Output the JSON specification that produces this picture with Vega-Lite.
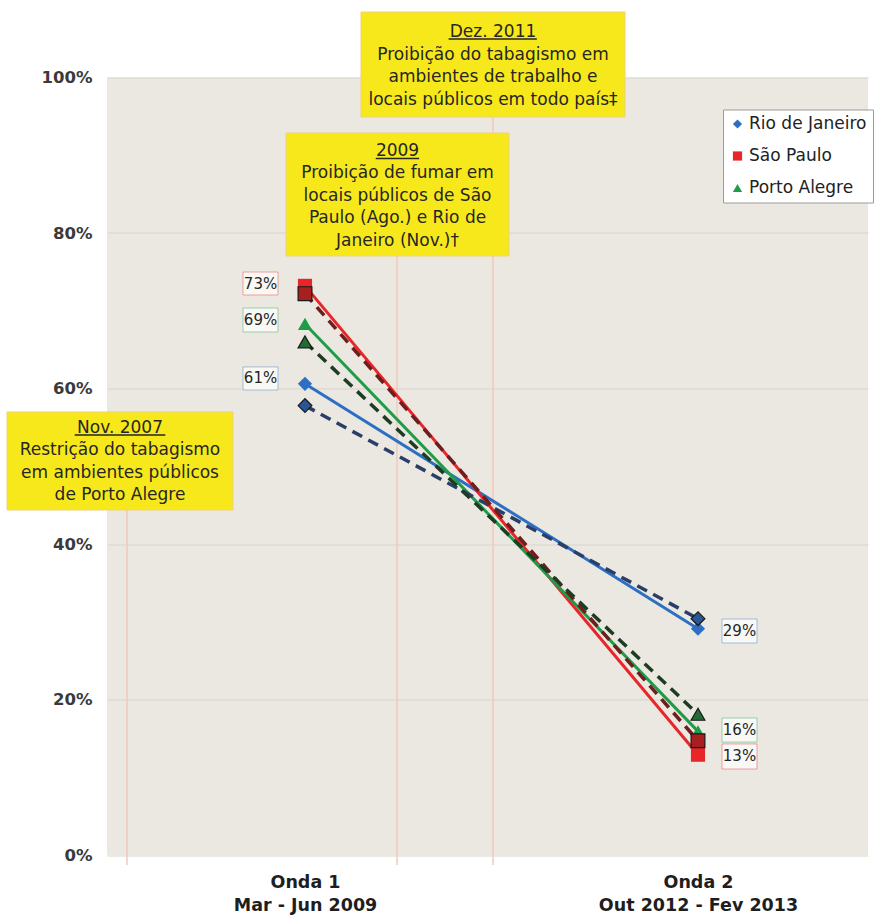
{
  "$schema": "https://vega.github.io/schema/vega-lite/v6.json",
  "width": 761,
  "height": 777.5,
  "autosize": {"type": "none"},
  "padding": {"left": 107, "top": 77.5, "right": 14, "bottom": 60},
  "background": "#ffffff",
  "view": {"fill": "#ebe8e1", "stroke": null},
  "config": {
    "font": "DejaVu Sans",
    "axisX": {"title": null, "grid": false, "domain": false, "ticks": false,
              "labelFont": "DejaVu Sans", "labelFontWeight": "bold", "labelFontSize": 17.5,
              "labelColor": "#1e1e1e", "labelLineHeight": 23, "labelPadding": 18, "labelFlush": false,
              "labelOverlap": false, "labelLimit": 400},
    "axisY": {"title": null, "grid": true, "gridColor": "#d8d4cc", "domain": false, "ticks": false,
              "labelFont": "DejaVu Sans", "labelFontWeight": "bold", "labelFontSize": 16.5,
              "labelColor": "#3a3a3a", "labelPadding": 15}
  },
  "datasets": {
    "serie": [
      {"serie": "Rio de Janeiro", "onda": 1, "valor": 60.6, "tipo": "cheia"},
      {"serie": "Rio de Janeiro", "onda": 2, "valor": 29.1, "tipo": "cheia"},
      {"serie": "São Paulo", "onda": 1, "valor": 73.2, "tipo": "cheia"},
      {"serie": "São Paulo", "onda": 2, "valor": 12.9, "tipo": "cheia"},
      {"serie": "Porto Alegre", "onda": 1, "valor": 68.3, "tipo": "cheia"},
      {"serie": "Porto Alegre", "onda": 2, "valor": 15.9, "tipo": "cheia"},
      {"serie": "Rio de Janeiro (tracejada)", "onda": 1, "valor": 57.8, "tipo": "tracejada"},
      {"serie": "Rio de Janeiro (tracejada)", "onda": 2, "valor": 30.4, "tipo": "tracejada"},
      {"serie": "São Paulo (tracejada)", "onda": 1, "valor": 72.2, "tipo": "tracejada"},
      {"serie": "São Paulo (tracejada)", "onda": 2, "valor": 14.7, "tipo": "tracejada"},
      {"serie": "Porto Alegre (tracejada)", "onda": 1, "valor": 66.0, "tipo": "tracejada"},
      {"serie": "Porto Alegre (tracejada)", "onda": 2, "valor": 18.1, "tipo": "tracejada"}
    ],
    "notas": [
      {"texto": "Dez. 2011\nProibição do tabagismo em\nambientes de trabalho e\nlocais públicos em todo país‡",
       "x1": 1.1425, "x2": 1.8143, "y1": 108.42, "y2": 94.92, "xc": 1.4784, "yt": 106.88,
       "lx": 1.4784, "ly1": 94.92, "ly2": -1.3, "ux1": 1.3655, "ux2": 1.5900, "uy": 104.95},
      {"texto": "2009\nProibição de fumar em\nlocais públicos de São\nPaulo (Ago.) e Rio de\nJaneiro (Nov.)†",
       "x1": 0.9517, "x2": 1.5191, "y1": 92.86, "y2": 77.04, "xc": 1.2354, "yt": 91.58,
       "lx": 1.2341, "ly1": 77.04, "ly2": -1.3, "ux1": 1.1800, "ux2": 1.2905, "uy": 89.58},
      {"texto": "Nov. 2007\nRestrição do tabagismo\nem ambientes públicos\nde Porto Alegre",
       "x1": 0.2418, "x2": 0.8168, "y1": 56.98, "y2": 44.37, "xc": 0.5293, "yt": 55.95,
       "lx": 0.5471, "ly1": 44.37, "ly2": -1.3, "ux1": 0.4140, "ux2": 0.6445, "uy": 54.02}
    ],
    "rotulos": [
      {"serie": "São Paulo", "texto": "73%", "x1": 0.8423, "x2": 0.9313, "y1": 74.98, "y2": 72.03, "xc": 0.8868, "yc": 73.5},
      {"serie": "Porto Alegre", "texto": "69%", "x1": 0.8423, "x2": 0.9313, "y1": 70.35, "y2": 67.27, "xc": 0.8868, "yc": 68.8},
      {"serie": "Rio de Janeiro", "texto": "61%", "x1": 0.8423, "x2": 0.9313, "y1": 62.77, "y2": 59.81, "xc": 0.8868, "yc": 61.29},
      {"serie": "Rio de Janeiro", "texto": "29%", "x1": 2.0611, "x2": 2.1501, "y1": 30.35, "y2": 27.27, "xc": 2.1056, "yc": 28.81},
      {"serie": "Porto Alegre", "texto": "16%", "x1": 2.0611, "x2": 2.1501, "y1": 17.62, "y2": 14.53, "xc": 2.1056, "yc": 16.08},
      {"serie": "São Paulo", "texto": "13%", "x1": 2.0611, "x2": 2.1501, "y1": 14.28, "y2": 11.06, "xc": 2.1056, "yc": 12.67}
    ]
  },
  "layer": [
    {
      "data": {"name": "notas"},
      "mark": {"type": "rule", "color": "#f2c9b8", "strokeWidth": 1.5},
      "encoding": {
        "x": {"field": "lx", "type": "quantitative", "scale": {"domain": [0.4962, 2.4326], "nice": false, "zero": false},
              "axis": {"values": [1, 2], "labelExpr": "datum.value == 1 ? ['Onda 1', 'Mar - Jun 2009'] : ['Onda 2', 'Out 2012 - Fev 2013']"}},
        "y": {"field": "ly1", "type": "quantitative", "scale": {"domain": [0, 100], "nice": false, "zero": false},
              "axis": {"values": [0, 20, 40, 60, 80, 100], "labelExpr": "datum.value + '%'"}},
        "y2": {"field": "ly2"}
      }
    },
    {
      "data": {"name": "notas"},
      "mark": {"type": "rect", "fill": "#f7e81c", "stroke": "#eed27a", "strokeWidth": 1},
      "encoding": {
        "x": {"field": "x1", "type": "quantitative", "scale": {"domain": [0.4962, 2.4326], "nice": false, "zero": false},
              "axis": {"values": [1, 2], "labelExpr": "datum.value == 1 ? ['Onda 1', 'Mar - Jun 2009'] : ['Onda 2', 'Out 2012 - Fev 2013']"}},
        "x2": {"field": "x2"},
        "y": {"field": "y1", "type": "quantitative", "scale": {"domain": [0, 100], "nice": false, "zero": false},
              "axis": {"values": [0, 20, 40, 60, 80, 100], "labelExpr": "datum.value + '%'"}},
        "y2": {"field": "y2"}
      }
    },
    {
      "data": {"name": "notas"},
      "mark": {"type": "text", "font": "DejaVu Sans", "fontSize": 17, "color": "#262626",
               "baseline": "top", "align": "center", "lineBreak": "\n", "lineHeight": 22.5},
      "encoding": {
        "x": {"field": "xc", "type": "quantitative", "scale": {"domain": [0.4962, 2.4326], "nice": false, "zero": false},
              "axis": {"values": [1, 2], "labelExpr": "datum.value == 1 ? ['Onda 1', 'Mar - Jun 2009'] : ['Onda 2', 'Out 2012 - Fev 2013']"}},
        "y": {"field": "yt", "type": "quantitative", "scale": {"domain": [0, 100], "nice": false, "zero": false},
              "axis": {"values": [0, 20, 40, 60, 80, 100], "labelExpr": "datum.value + '%'"}},
        "text": {"field": "texto"}
      }
    },
    {
      "data": {"name": "notas"},
      "mark": {"type": "rule", "color": "#262626", "strokeWidth": 1.3},
      "encoding": {
        "x": {"field": "ux1", "type": "quantitative", "scale": {"domain": [0.4962, 2.4326], "nice": false, "zero": false},
              "axis": {"values": [1, 2], "labelExpr": "datum.value == 1 ? ['Onda 1', 'Mar - Jun 2009'] : ['Onda 2', 'Out 2012 - Fev 2013']"}},
        "x2": {"field": "ux2"},
        "y": {"field": "uy", "type": "quantitative", "scale": {"domain": [0, 100], "nice": false, "zero": false},
              "axis": {"values": [0, 20, 40, 60, 80, 100], "labelExpr": "datum.value + '%'"}}
      }
    },
    {
      "data": {"name": "serie"},
      "transform": [{"filter": "datum.tipo == 'cheia'"}],
      "mark": {"type": "line", "strokeWidth": 3},
      "encoding": {
        "x": {"field": "onda", "type": "quantitative", "scale": {"domain": [0.4962, 2.4326], "nice": false, "zero": false},
              "axis": {"values": [1, 2], "labelExpr": "datum.value == 1 ? ['Onda 1', 'Mar - Jun 2009'] : ['Onda 2', 'Out 2012 - Fev 2013']"}},
        "y": {"field": "valor", "type": "quantitative", "scale": {"domain": [0, 100], "nice": false, "zero": false},
              "axis": {"values": [0, 20, 40, 60, 80, 100], "labelExpr": "datum.value + '%'"}},
        "stroke": {"field": "serie", "type": "nominal", "legend": null,
                   "scale": {"domain": ["Rio de Janeiro (tracejada)", "São Paulo (tracejada)", "Porto Alegre (tracejada)", "Rio de Janeiro", "São Paulo", "Porto Alegre"],
                             "range": ["#2a3f68", "#6e1e1e", "#1e3b24", "#2d6fc3", "#e8262a", "#1f9c48"]}}
      }
    },
    {
      "data": {"name": "serie"},
      "transform": [{"filter": "datum.tipo == 'tracejada'"}],
      "mark": {"type": "line", "strokeWidth": 3.5, "strokeDash": [11, 7]},
      "encoding": {
        "x": {"field": "onda", "type": "quantitative", "scale": {"domain": [0.4962, 2.4326], "nice": false, "zero": false},
              "axis": {"values": [1, 2], "labelExpr": "datum.value == 1 ? ['Onda 1', 'Mar - Jun 2009'] : ['Onda 2', 'Out 2012 - Fev 2013']"}},
        "y": {"field": "valor", "type": "quantitative", "scale": {"domain": [0, 100], "nice": false, "zero": false},
              "axis": {"values": [0, 20, 40, 60, 80, 100], "labelExpr": "datum.value + '%'"}},
        "stroke": {"field": "serie", "type": "nominal", "legend": null,
                   "scale": {"domain": ["Rio de Janeiro (tracejada)", "São Paulo (tracejada)", "Porto Alegre (tracejada)", "Rio de Janeiro", "São Paulo", "Porto Alegre"],
                             "range": ["#2a3f68", "#6e1e1e", "#1e3b24", "#2d6fc3", "#e8262a", "#1f9c48"]}}
      }
    },
    {
      "data": {"name": "serie"},
      "transform": [{"filter": "datum.tipo == 'cheia'"}],
      "mark": {"type": "point", "filled": true, "opacity": 1, "size": 200},
      "encoding": {
        "x": {"field": "onda", "type": "quantitative", "scale": {"domain": [0.4962, 2.4326], "nice": false, "zero": false},
              "axis": {"values": [1, 2], "labelExpr": "datum.value == 1 ? ['Onda 1', 'Mar - Jun 2009'] : ['Onda 2', 'Out 2012 - Fev 2013']"}},
        "y": {"field": "valor", "type": "quantitative", "scale": {"domain": [0, 100], "nice": false, "zero": false},
              "axis": {"values": [0, 20, 40, 60, 80, 100], "labelExpr": "datum.value + '%'"}},
        "color": {"field": "serie", "type": "nominal",
                  "legend": {"values": ["Rio de Janeiro", "São Paulo", "Porto Alegre"], "title": null,
                             "orient": "none", "legendX": 616, "legendY": 32,
                             "fillColor": "#ffffff", "strokeColor": "#9a9a9a", "padding": 6,
                             "labelFont": "DejaVu Sans", "labelFontSize": 17, "labelColor": "#222222",
                             "symbolSize": 85, "symbolStrokeWidth": 0, "rowPadding": 14, "labelOffset": 3},
                  "scale": {"domain": ["Rio de Janeiro", "São Paulo", "Porto Alegre", "Rio de Janeiro (tracejada)", "São Paulo (tracejada)", "Porto Alegre (tracejada)"],
                            "range": ["#2d6fc3", "#e8262a", "#1f9c48", "#2a5694", "#a81f1f", "#236b34"]}},
        "shape": {"field": "serie", "type": "nominal",
                  "legend": {"values": ["Rio de Janeiro", "São Paulo", "Porto Alegre"], "title": null,
                             "orient": "none", "legendX": 616, "legendY": 32,
                             "fillColor": "#ffffff", "strokeColor": "#9a9a9a", "padding": 6,
                             "labelFont": "DejaVu Sans", "labelFontSize": 17, "labelColor": "#222222",
                             "symbolSize": 85, "symbolStrokeWidth": 0, "rowPadding": 14, "labelOffset": 3},
                  "scale": {"domain": ["Rio de Janeiro", "São Paulo", "Porto Alegre", "Rio de Janeiro (tracejada)", "São Paulo (tracejada)", "Porto Alegre (tracejada)"],
                            "range": ["diamond", "square", "triangle-up", "diamond", "square", "triangle-up"]}}
      }
    },
    {
      "data": {"name": "serie"},
      "transform": [{"filter": "datum.tipo == 'tracejada'"}],
      "mark": {"type": "point", "filled": true, "opacity": 1, "size": 190, "stroke": "#1a1a1a", "strokeWidth": 1.2},
      "encoding": {
        "x": {"field": "onda", "type": "quantitative", "scale": {"domain": [0.4962, 2.4326], "nice": false, "zero": false},
              "axis": {"values": [1, 2], "labelExpr": "datum.value == 1 ? ['Onda 1', 'Mar - Jun 2009'] : ['Onda 2', 'Out 2012 - Fev 2013']"}},
        "y": {"field": "valor", "type": "quantitative", "scale": {"domain": [0, 100], "nice": false, "zero": false},
              "axis": {"values": [0, 20, 40, 60, 80, 100], "labelExpr": "datum.value + '%'"}},
        "color": {"field": "serie", "type": "nominal",
                  "legend": {"values": ["Rio de Janeiro", "São Paulo", "Porto Alegre"], "title": null,
                             "orient": "none", "legendX": 616, "legendY": 32,
                             "fillColor": "#ffffff", "strokeColor": "#9a9a9a", "padding": 6,
                             "labelFont": "DejaVu Sans", "labelFontSize": 17, "labelColor": "#222222",
                             "symbolSize": 85, "symbolStrokeWidth": 0, "rowPadding": 14, "labelOffset": 3},
                  "scale": {"domain": ["Rio de Janeiro", "São Paulo", "Porto Alegre", "Rio de Janeiro (tracejada)", "São Paulo (tracejada)", "Porto Alegre (tracejada)"],
                            "range": ["#2d6fc3", "#e8262a", "#1f9c48", "#2a5694", "#a81f1f", "#236b34"]}},
        "shape": {"field": "serie", "type": "nominal",
                  "legend": {"values": ["Rio de Janeiro", "São Paulo", "Porto Alegre"], "title": null,
                             "orient": "none", "legendX": 616, "legendY": 32,
                             "fillColor": "#ffffff", "strokeColor": "#9a9a9a", "padding": 6,
                             "labelFont": "DejaVu Sans", "labelFontSize": 17, "labelColor": "#222222",
                             "symbolSize": 85, "symbolStrokeWidth": 0, "rowPadding": 14, "labelOffset": 3},
                  "scale": {"domain": ["Rio de Janeiro", "São Paulo", "Porto Alegre", "Rio de Janeiro (tracejada)", "São Paulo (tracejada)", "Porto Alegre (tracejada)"],
                            "range": ["diamond", "square", "triangle-up", "diamond", "square", "triangle-up"]}}
      }
    },
    {
      "data": {"name": "rotulos"},
      "mark": {"type": "rect", "fill": "#f8f8f5", "strokeWidth": 1, "strokeOpacity": 0.4},
      "encoding": {
        "x": {"field": "x1", "type": "quantitative", "scale": {"domain": [0.4962, 2.4326], "nice": false, "zero": false},
              "axis": {"values": [1, 2], "labelExpr": "datum.value == 1 ? ['Onda 1', 'Mar - Jun 2009'] : ['Onda 2', 'Out 2012 - Fev 2013']"}},
        "x2": {"field": "x2"},
        "y": {"field": "y1", "type": "quantitative", "scale": {"domain": [0, 100], "nice": false, "zero": false},
              "axis": {"values": [0, 20, 40, 60, 80, 100], "labelExpr": "datum.value + '%'"}},
        "y2": {"field": "y2"},
        "stroke": {"field": "serie", "type": "nominal", "legend": null,
                   "scale": {"domain": ["Rio de Janeiro (tracejada)", "São Paulo (tracejada)", "Porto Alegre (tracejada)", "Rio de Janeiro", "São Paulo", "Porto Alegre"],
                             "range": ["#2a3f68", "#6e1e1e", "#1e3b24", "#2d6fc3", "#e8262a", "#1f9c48"]}}
      }
    },
    {
      "data": {"name": "rotulos"},
      "mark": {"type": "text", "font": "DejaVu Sans", "fontSize": 15, "color": "#262626", "baseline": "middle", "align": "center"},
      "encoding": {
        "x": {"field": "xc", "type": "quantitative", "scale": {"domain": [0.4962, 2.4326], "nice": false, "zero": false},
              "axis": {"values": [1, 2], "labelExpr": "datum.value == 1 ? ['Onda 1', 'Mar - Jun 2009'] : ['Onda 2', 'Out 2012 - Fev 2013']"}},
        "y": {"field": "yc", "type": "quantitative", "scale": {"domain": [0, 100], "nice": false, "zero": false},
              "axis": {"values": [0, 20, 40, 60, 80, 100], "labelExpr": "datum.value + '%'"}},
        "text": {"field": "texto"}
      }
    }
  ]
}
